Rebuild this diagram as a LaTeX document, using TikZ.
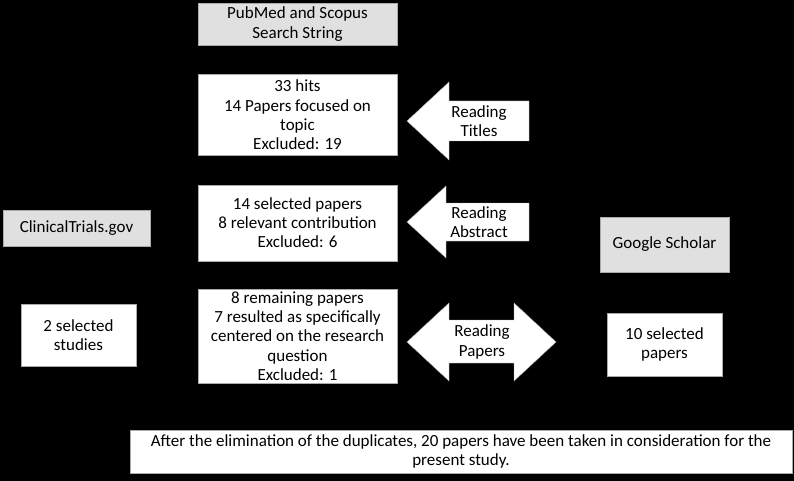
\documentclass[tikz,border=0pt]{standalone}
\usepackage{fontspec}
\setmainfont{Carlito}
\usepackage{tikz}
\usetikzlibrary{positioning}
\definecolor{srcgray}{RGB}{224,224,224}
\definecolor{edgegray}{RGB}{170,170,170}

\begin{document}
\begin{tikzpicture}[
    x=1pt, y=-1pt,
    box/.style={draw=edgegray, fill=white, align=center, inner sep=1pt, font=\fontsize{17}{19.3}\selectfont},
    source/.style={box, fill=srcgray},
    fatarrow/.style={fill=white, draw=edgegray, line width=0.4pt},
    arrowtext/.style={align=center, font=\fontsize{17}{19.3}\selectfont},
    node distance=29pt
]
    % Background
    \fill[black] (0,0) rectangle (794,481);
    \useasboundingbox (0,0) rectangle (794,481);

    % Main column
    \node[source, minimum width=199pt, minimum height=42pt] (search) at (297.5,24) {PubMed and Scopus\\Search String};
    \node[box, below=of search, minimum width=199pt, minimum height=81pt] (hits) {33 hits\\14 Papers focused on\\topic\\Excluded: 19};
    \node[box, below=of hits, minimum width=199pt, minimum height=76pt] (selected) {14 selected papers\\8 relevant contribution\\Excluded: 6};
    \node[box, below=28pt of selected, minimum width=199pt, minimum height=94pt] (remaining) {8 remaining papers\\7 resulted as specifically\\centered on the research\\question\\Excluded: 1};

    % Other sources
    \node[source, minimum width=147pt, minimum height=36pt] (trials) at (76.5,228) {ClinicalTrials.gov};
    \node[box, minimum width=115pt, minimum height=62pt] (studies) at (78.5,335) {2 selected\\studies};
    \node[source, minimum width=129pt, minimum height=55pt] (scholar) at (664.5,244.5) {Google Scholar};
    \node[box, minimum width=115pt, minimum height=63pt] (scholarpapers) at (664.5,344.5) {10 selected\\papers};

    % Reading steps
    \filldraw[fatarrow] (407,121) -- (449,82) -- (449,101) -- (529,101) -- (529,141) -- (449,141) -- (449,160) -- cycle;
    \node[arrowtext] (titles) at (479,121) {Reading\\Titles};
    \filldraw[fatarrow] (407,222) -- (446,186) -- (446,203) -- (529,203) -- (529,241) -- (446,241) -- (446,258) -- cycle;
    \node[arrowtext] (abstract) at (479,222) {Reading\\Abstract};
    \filldraw[fatarrow] (407,342) -- (449,303) -- (449,320) -- (514,320) -- (514,303) -- (556,342) -- (514,381) -- (514,363) -- (449,363) -- (449,381) -- cycle;
    \node[arrowtext] (reading) at (482,342) {Reading\\Papers};

    % Result
    \node[box, minimum width=662pt, minimum height=43pt] (result) at (461,451.5) {After the elimination of the duplicates, 20 papers have been taken in consideration for the\\present study.};
\end{tikzpicture}
\end{document}
